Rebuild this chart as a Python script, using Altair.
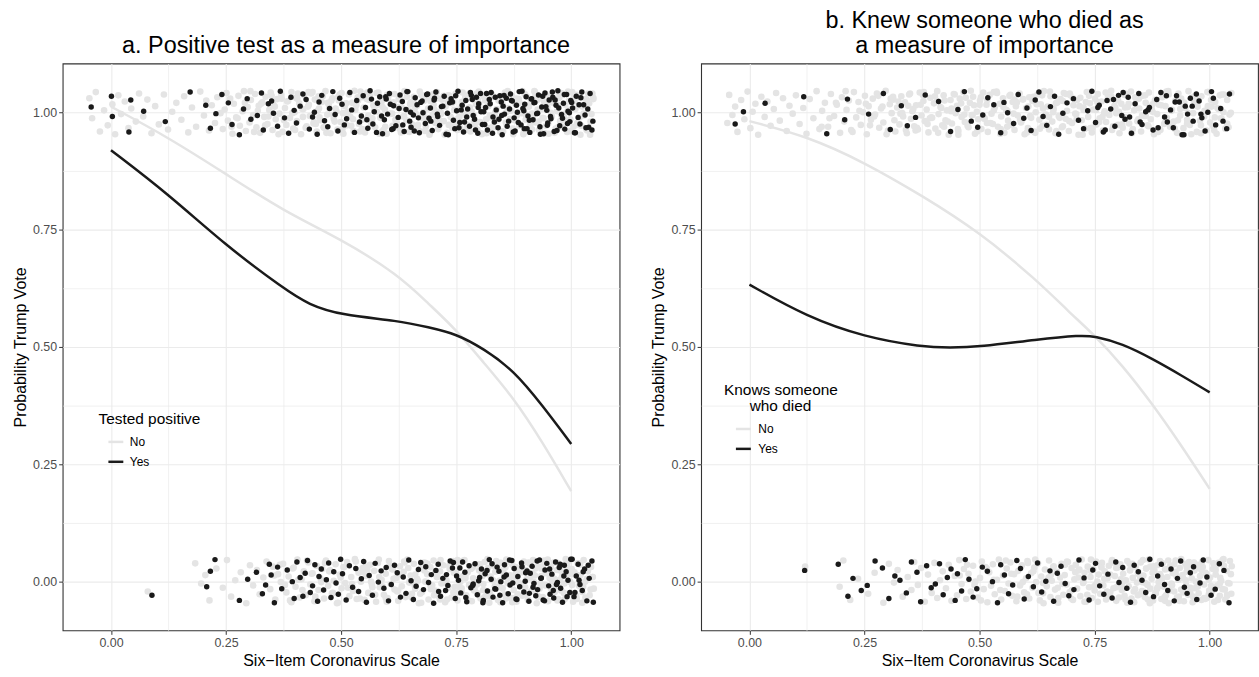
import altair as alt
import pandas as pd

# ---------------- smoothed curves ----------------
A_NO_X = [0, 0.125, 0.25, 0.375, 0.5, 0.625, 0.69, 0.75, 0.81, 0.875, 0.9375, 1.0]
A_NO_Y = [1.013, 0.947, 0.869, 0.79, 0.73, 0.654, 0.592, 0.537, 0.466, 0.391, 0.297, 0.192]
A_YES_X = [0, 0.125, 0.25, 0.375, 0.43, 0.5, 0.625, 0.69, 0.75, 0.81, 0.875, 0.9375, 1.0]
A_YES_Y = [0.92, 0.826, 0.716, 0.625, 0.59, 0.568, 0.556, 0.542, 0.528, 0.496, 0.45, 0.375, 0.293]
B_NO_X = [0, 0.125, 0.25, 0.375, 0.5, 0.625, 0.695, 0.75, 0.81, 0.875, 0.9375, 1.0]
B_NO_Y = [0.982, 0.95, 0.894, 0.823, 0.745, 0.642, 0.574, 0.525, 0.461, 0.379, 0.291, 0.197]
B_YES_X = [0, 0.125, 0.25, 0.375, 0.435, 0.5, 0.625, 0.72, 0.75, 0.81, 0.875, 0.9375, 1.0]
B_YES_Y = [0.633, 0.564, 0.521, 0.5, 0.498, 0.5, 0.516, 0.525, 0.523, 0.507, 0.475, 0.44, 0.403]

# ---------------- jittered respondents (x in thousandths) ----------------
A_TOP_NO = [-47,-41,-33,-24,-15,-7, 3,9,16,22,30,38,44, 54,61,70,79,88,96, 104,115,124,133,142,
 153,159,168,176,185,194, 202,207,213,219,226,231,238,243,247,
 251,254,259,264,267,272,277,280,286,289,293,297, 301,304,309,313,316,321,324,329,333,336,340,344,347,
 351,353,358,361,366,370,373,378,381,385,389,392,396,399, 402,404,409,413,416,420,425,428,432,435,440,443,447,449,
 451,455,458,463,466,470,473,477,481,484,488,492,495,499, 501,504,508,513,517,520,524,527,531,536,539,542,546,549,
 552,556,559,563,567,570,574,578,581,585,588,592,595,599, 602,605,609,612,616,621,624,627,631,635,638,642,646,648,
 651,654,658,662,665,669,674,677,680,684,689,692,696,699, 701,705,708,711,716,719,723,727,730,733,738,741,745,749,
 752,755,759,762,767,770,774,778,781,786,789,793,796,799, 802,806,809,813,816,820,825,828,832,835,839,844,847,850,
 853,856,860,863,867,871,874,879,882,886,889,894,897,899, 901,905,908,912,915,920,923,927,930,934,938,941,945,948,
 951,954,958,962,966,969,973,976,981,984,987,991,995,998, 1002,1005,1009,1013,1016,1020,1024,1028,1031,1035,1039,1042,1046]
A_TOP_NO2 = [262,275,291,303,311,319,326,335,342,349,356,364,371,376,383,394,400,406,418,423,430,438,445,453,
 460,468,474,479,486,490,497,503,511,515,522,529,533,541,547,554,561,565,572,577,583,590,596,604,607,614,618,
 625,630,637,643,650,656,660,667,671,679,682,687,694,700,706,710,717,721,725,732,735,742,746,754,757,764,769,
 772,780,784,791,795,800,804,811,815,823,827,830,838,842,846,851,858,862,869,873,877,881,888,892,896,903,907,
 911,917,921,926,932,936,940,944,950,956,960,964,970,974,978,983,989,993,997,1001,1007,1011,1018,1022,1026,
 1033,1037,1044,1048]
A_TOP_NO3 = [405,417,429,441,452,462,471,483,494,505,514,526,537,546,557,568,579,589,600,611,620,632,641,652,
 663,672,684,693,703,714,723,734,743,753,762,771,779,788,797,806,813,821,829,837,845,852,859,866,873,880,887,
 894,901,908,915,922,929,936,943,950,957,964,971,978,985,992,999,1006,1013,1020,1027,1034,1041,1048]
A_TOP_YES = [-43, 1,3,39,43, 71, 118, 172, 206,216,228,241, 255,263,279,288,296, 304,318,327,331,342,349,
 353,362,368,377,386,391,398, 403,411,417,424,431,438,442,448, 452,458,464,471,475,482,487,493,497,
 502,507,512,519,523,529,534,540,544,548, 553,558,563,569,572,579,584,590,594,598,
 601,605,610,614,619,624,628,633,637,641,645,649, 652,657,661,665,670,673,678,683,686,691,694,698,
 702,706,710,714,718,724,728,731,736,739,744,747, 751,754,758,763,766,771,775,779,783,787,790,794,797,799,
 803,807,810,814,818,822,826,830,833,837,841,845,848,850, 852,855,859,864,868,872,876,878,883,887,891,895,898,899,
 902,906,910,913,917,921,925,929,932,936,940,943,947,949, 952,956,960,963,967,971,975,979,983,986,990,993,997,999,
 1003,1007,1011,1015,1019,1023,1027,1032,1036,1041,1045]
A_TOP_YES2 = [556,566,577,588,597,607,613,626,634,643,651,659,668,676,688,695,703,709,721,733,742,749,756,761,
 768,773,781,785,792,798,804,812,816,824,829,835,843,849,854,861,866,870,874,881,885,893,897,904,909,914,919,
 927,933,938,945,948,955,959,965,969,973,981,985,992,996,1001,1009,1017,1021,1030,1038,1047]
A_BOT_NO = [80, 183,196, 205,214,229,243, 252,261,270,282,294, 302,309,317,323,331,338,346,
 352,357,363,369,374,381,386,392,397, 401,405,410,414,419,423,429,433,438,442,447,
 451,455,459,463,467,472,476,480,484,488,493,497, 501,505,509,513,518,522,526,530,534,538,543,547,
 551,555,559,563,567,572,576,580,584,588,593,597, 601,604,608,612,616,620,624,628,632,636,640,644,648,
 651,654,658,661,665,669,672,676,680,683,687,690,694,698, 701,704,708,711,715,718,722,726,729,733,736,740,744,747,
 750,753,756,759,762,765,768,772,775,778,781,784,787,790,793,797, 800,803,806,809,812,815,819,822,825,828,831,834,837,841,844,847,
 850,853,856,859,862,866,869,872,875,878,881,884,888,891,894,897, 900,903,906,910,913,916,919,922,925,928,931,935,938,941,944,947,
 950,953,956,959,962,966,969,972,975,978,981,985,988,991,994,997, 1001,1004,1007,1011,1014,1017,1020,1024,1027,1031,1034,1038,1042,1046]
A_BOT_NO2 = [355,367,378,389,395,407,416,426,436,444,457,465,474,482,491,499,507,515,524,532,541,549,557,565,
 574,582,590,599,606,614,622,630,638,646,653,660,667,674,681,688,695,702,709,716,723,730,737,745,751,757,763,
 770,776,782,789,795,801,807,813,818,823,829,835,840,846,851,857,862,867,873,879,884,890,895,901,906,911,917,
 922,927,933,938,943,949,954,959,964,970,975,980,986,991,996,1002,1008,1013,1019,1024,1030,1036,1043,1049]
A_BOT_NO3 = [553,568,583,597,611,624,637,649,661,672,683,694,705,715,725,735,744,753,762,770,778,786,794,802,
 809,816,823,830,837,844,851,858,865,872,879,886,893,900,907,914,921,928,935,942,949,956,963,970,977,984,991,
 998,1005,1012,1019,1026,1033,1040,1047]
A_BOT_YES = [89, 208,216,226, 279,297, 316,329,336,344,348, 355,362,371,383,394,398,
 404,411,417,422,427,433,438,443,449, 452,457,462,468,473,478,484,489,494,499,
 503,511,518,525,532,538,544,549, 555,561,568,574,581,587,593,598, 603,609,616,622,629,635,641,647,
 652,657,663,668,673,679,684,690,696, 701,706,711,716,721,727,732,737,742,748,
 751,755,760,764,769,773,778,782,787,791,796, 801,805,809,813,818,822,826,830,834,839,843,847,
 851,855,859,863,867,871,876,880,884,888,892,897, 900,904,908,911,915,919,923,927,931,935,939,943,947,
 951,954,958,962,966,970,974,977,981,985,989,993,997, 1002,1006,1011,1015,1019,1024,1029,1034,1039,1045]
A_BOT_YES2 = [712,729,744,758,771,786,799,808,817,828,836,845,854,866,873,882,893,901,909,917,926,934,942,953,
 961,968,976,984,991,999,1008,1017,1026,1037,1048]
B_TOP_NO = [-48,-44,-37,-31,-26,-18,-11,-4, 2,7,13,19,26,33,39,46, 53,58,66,73,81,87,94, 101,109,117,124,131,139,146,
 152,158,164,171,177,184,190,197, 201,206,211,216,221,227,232,237,242,247, 251,255,259,264,268,273,277,282,286,291,296,
 301,305,309,313,317,321,326,330,334,338,342,347, 351,354,358,362,366,370,374,378,381,385,389,393,397,
 401,404,408,411,415,419,422,426,429,433,437,440,444,448, 451,454,457,461,465,468,472,476,479,483,486,490,494,497,
 501,504,508,511,515,518,522,526,529,533,537,540,544,547, 551,554,558,562,565,569,572,576,579,583,587,590,594,598,
 601,605,608,612,615,619,622,626,630,633,637,640,644,648, 651,654,658,661,665,669,672,676,679,683,687,690,694,697,
 701,704,708,712,715,719,722,726,729,733,736,740,744,747, 751,754,757,761,765,768,772,775,779,782,786,790,793,797,
 801,804,808,811,815,818,822,825,829,833,836,840,843,847, 851,854,858,861,865,868,872,876,879,883,886,890,893,897,
 901,904,907,911,914,918,922,925,929,932,936,939,943,947, 951,954,957,961,964,968,972,975,979,982,986,989,993,997,
 1001,1004,1008,1012,1015,1019,1022,1026,1030,1034,1038,1043,1047]
B_TOP_NO2 = [157,174,188,209,224,239,253,262,271,280,289,298,307,315,324,332,340,349,356,364,372,379,387,395,
 403,410,417,424,431,438,446,453,460,467,474,481,488,495,503,510,517,524,531,538,545,552,560,567,574,581,588,
 595,603,610,617,624,631,638,646,653,660,667,674,681,688,695,703,710,717,724,731,738,745,753,760,767,774,781,
 788,795,803,810,817,824,831,838,845,853,860,867,874,881,888,895,903,910,917,924,931,938,945,953,960,967,974,
 981,988,995,1003,1010,1017,1024,1031,1038,1046]
B_TOP_NO3 = [312,328,345,361,377,392,408,423,439,454,470,485,500,516,531,546,561,576,591,606,621,636,651,666,
 681,696,711,726,741,756,771,786,801,816,831,846,861,876,891,906,921,936,951,966,981,996,1011,1026,1041]
B_TOP_YES = [-31,-13, 34, 118, 168, 207,213, 259,291, 306,330,343, 361,382, 411,437, 453,467,482,496,
 507,518,531,546, 553,561,574,584,596, 603,612,621,629,638,646, 654,663,672,681,690, 704,715,726,735,744,
 752,760,769,777,785,794, 802,809,816,823,830,838,846, 853,861,869,877,885,894,
 902,908,915,921,928,934,940,947, 952,958,964,971,977,983,990,996, 1004,1013,1024,1037]
B_TOP_YES2 = [757,773,791,812,826,849,866,888,906,925,944,962,981,1008,1029,1043]
B_BOT_NO = [121, 196, 204,219,236, 258,272,291, 303,314,322,333,344, 352,358,366,373,381,388,396,
 402,408,414,420,427,433,439,446, 451,456,461,466,471,476,481,486,491,496,
 501,505,509,513,517,521,525,529,533,538,542,547, 551,555,559,563,567,571,575,580,584,588,592,597,
 601,604,608,612,615,619,623,627,631,634,638,642,646, 651,654,657,661,664,668,671,675,678,682,685,689,692,696,
 700,703,706,709,712,715,719,722,725,728,731,735,738,741,744,747, 750,753,756,759,762,766,769,772,775,778,781,784,788,791,794,797,
 800,803,806,809,812,815,818,821,824,827,830,833,836,839,842,845,848, 850,853,856,859,862,865,868,871,874,877,880,883,886,889,892,895,898,
 900,903,905,908,911,914,917,920,923,926,929,932,935,938,941,944,947,949, 950,953,955,958,961,964,967,970,973,976,979,982,985,988,991,994,997,999,
 1001,1004,1007,1010,1013,1016,1019,1022,1025,1028,1031,1034,1037,1040,1044,1047]
B_BOT_NO2 = [457,473,489,503,516,531,545,557,569,582,594,605,617,628,639,650,660,670,680,690,699,708,717,726,
 734,742,749,757,764,771,777,784,790,797,803,809,815,821,827,832,838,844,849,855,860,866,871,876,882,887,892,
 897,903,908,913,918,923,928,933,938,943,948,953,958,963,968,973,978,983,988,993,998,1003,1008,1013,1018,1023,
 1028,1033,1038,1043,1048]
B_BOT_NO3 = [603,621,638,655,671,686,701,715,728,741,753,765,776,787,797,807,817,826,835,844,853,862,870,878,
 886,894,902,910,918,926,934,942,950,958,966,974,982,990,998,1006,1014,1022,1030,1038,1046]
B_BOT_YES = [120, 193, 214,225,243, 256,273,289, 303,316,327,341, 352,364,372,385,395, 404,413,421,430,438,447,
 452,461,469,477,486,494, 506,517,528,539,546, 554,563,572,581,589,597, 606,617,626,635,644,
 653,661,669,677,686,694, 705,716,727,738,746, 752,761,770,779,788,796, 803,811,820,828,836,845,
 853,861,870,878,887,895, 902,909,916,923,930,937,945, 951,958,965,972,979,986,994, 1003,1012,1021,1031,1042]

# vertical jitter (thousandths) read for each respondent band
JT = [31,-12,44,-40,5,-27,18,-46,37,-3,24,-33,9,-19,41, -8,28,-44,14,-25,39,-36,2,21,-15,35,-42,11,-30,45,
 -6,26,-38,16,-22,33,-1,-35,7,42,-17,30,-45,19,-10, 36,-28,3,46,-39,12,-21,27,-5,40,-31,15,-43,22,-9,
 34,-24,6,43,-37,17,-14,29,-2,38,-41,10,-26,25,-11, 44,-34,1,32,-18,20,-46,8,37,-29,13,-7,41,-23,28,
 -40,4,35,-16,23,-32,46,-4,18,-44,31,-13,9,-36,26, -20,42,-1,14,-27,39,-9,21,-39,6,33,-24,45,-15,11,
 -42,29,-6,36,-19,16,-31,2,43,-11,24,-37,7,-45,30, -3,19,-28,40,-21,12,-34,27,-8,46,-16,5,-41,22,-25,
 34,-2,15,-38,38,-12,25,-30,9,-47,32,-5,17,-22,44, -35,3,28,-18,13,-43,37,-9,20,-29,41,-14,6,-33,23,
 -1,35,-26,11,-40,30,-7,18,-36,45,-20,8,-23,26,-44, 14,-10,39,-31,1,-17,33,-39,22,-4,43,-27,10,-13,36,
 -46,19,-6,29,-24,4,-42,40,-15,16,-32,27,-2,46,-21, 7,-37,31,-11,24,-28,12,-45,35,-8,21,-34,3,42,-18,
 38,-3,17,-41,25,-14,44,-30,8,-25,33,-47,13,-6,29, -38,20,-19,41,-10,5,-33,36,-26,15,-43,27,-1,46,-16]
JB = [-22,38,-5,13,-41,27,-14,45,-33,2,19,-47,34,-9,24, -28,8,42,-17,31,-39,15,-2,37,-24,10,-45,29,-12,46,
 -35,4,21,-30,40,-7,17,-43,33,-19,6,26,-37,44,-10, 23,-26,1,36,-46,14,-15,30,-4,41,-32,9,-21,47,-38,
 18,-1,28,-40,11,-25,35,-8,22,-44,39,-13,3,-29,16, -36,43,-6,25,-18,7,-42,32,-11,20,-34,46,-3,12,-27,
 37,-16,5,-47,27,-23,40,-1,15,-39,30,-9,44,-20,9, -31,21,-5,34,-45,2,-14,26,-35,43,-12,17,-41,38,-2,
 -24,11,45,-30,19,-8,31,-43,6,-17,36,-26,23,-37,14, -6,41,-21,28,-46,10,-33,33,-11,25,-40,1,39,-15,18,
 -28,46,-4,13,-36,35,-19,8,-44,22,-7,29,-31,42,-13, 4,-39,37,-22,16,-2,27,-47,32,-16,11,-34,44,-9,20,
 -42,7,30,-25,40,-12,24,-38,3,-20,34,-5,47,-29,15, -1,26,-44,19,-32,38,-10,12,-23,45,-35,5,31,-18,9,
 -40,36,-7,21,-27,43,-14,2,-46,28,-3,17,-37,33,-24, 14,-11,39,-30,6,-19,25,-43,41,-6,22,-33,10,-15,46,
 -26,32,-1,18,-41,29,-17,35,-8,4,-38,44,-21,13,-29, 23,-45,8,37,-13,1,-34,27,-4,42,-22,16,-39,31,-10]
JC = [12,35,-8,-41,27,3,-19,44,16,-33, -2,39,21,-25,-47,8,30,-14,-6,42, -37,19,25,-1,-29,46,-11,-44,33,5,
 -22,14,40,28,-35,-9,1,-46,23,37, -17,-30,9,45,-4,-39,31,18,-26,-13, 43,6,-42,26,-20,-7,36,11,-33,47,
 -24,2,20,34,-45,-15,29,-3,41,-36, 15,-28,-10,38,24,-40,7,45,-18,-31, -5,32,17,-43,22,0,-23,39,-12,10,
 -38,27,44,-8,-27,13,35,-46,-1,21, 30,-16,-34,4,46,-21,16,-41,26,8, -29,37,-6,-14,33,-44,19,41,-25,2,
 11,-37,28,43,-9,-20,6,-32,36,23, -47,14,-3,31,-18,40,25,-11,-39,1, 45,-26,9,-34,18,34,-7,-42,29,-15,
 22,-2,38,-30,12,-45,42,5,-22,27, -13,33,-40,16,47,-28,-4,20,-35,39, 3,-19,26,10,-43,35,-10,-24,44,17,
 -32,8,41,-37,-1,24,-16,30,-46,13, 36,-8,-27,19,4,-41,46,21,-12,-30]

GRID_VALUES = [0, 0.125, 0.25, 0.375, 0.5, 0.625, 0.75, 0.875, 1.0]
GROUPS = ["No", "Yes"]
COLORS = ["#e4e4e4", "#1a1a1a"]
SIZE_NO = 44
SIZE_YES = 30
FONT = "Liberation Sans"
INDENT = "\u200b" + "\u00a0" * 6


def band(xs, base, jit, grp):
    return [{"x": x / 1000, "y": base + j / 1000, "g": grp} for x, j in zip(xs, jit)]


def curve(xs, ys, grp):
    return [{"x": x, "y": y, "g": grp} for x, y in zip(xs, ys)]


MINOR = "round(datum.value * 8) % 2 == 1"


def axis(title):
    return alt.Axis(
        values=GRID_VALUES,
        title=title,
        labelExpr="round(datum.value * 8) % 2 == 0 ? format(datum.value, '.2f') : ''",
        tickOpacity={"condition": {"test": MINOR, "value": 0}, "value": 1},
        gridWidth={"condition": {"test": MINOR, "value": 0.7}, "value": 1.1},
    )


def panel(gray, black, lines, title, leg_title, lx, ly, sym_off, lab_off):
    xs = alt.Scale(domain=[-0.105, 1.105], nice=False, zero=False)
    ys = alt.Scale(domain=[-0.105, 1.105], nice=False, zero=False)
    cs = alt.Scale(domain=GROUPS, range=COLORS)
    xe = alt.X("x:Q", scale=xs, axis=axis("Six\u2212Item Coronavirus Scale"))
    ye = alt.Y("y:Q", scale=ys, axis=axis("Probability Trump Vote"))
    leg = alt.Legend(
        title=leg_title, orient="none", legendX=lx, legendY=ly,
        symbolType="stroke", symbolStrokeWidth=2.5, symbolSize=225,
        symbolOffset=sym_off, labelOffset=lab_off, padding=0,
        titleAnchor="start", titleAlign="left",
    )
    col = alt.Color("g:N", scale=cs, legend=leg)
    p_no = alt.Chart(pd.DataFrame(gray)).mark_circle(opacity=1, size=SIZE_NO).encode(x=xe, y=ye, color=col)
    p_yes = alt.Chart(pd.DataFrame(black)).mark_circle(opacity=1, size=SIZE_YES).encode(x=xe, y=ye, color=col)
    lns = alt.Chart(pd.DataFrame(lines)).mark_line(strokeWidth=2.5, interpolate="basis").encode(
        x=xe, y=ye, color=col,
    )
    return alt.layer(p_no, p_yes, lns).properties(
        width=560, height=570,
        title=alt.TitleParams(title, fontSize=23.5, fontWeight="normal", lineHeight=25,
                              anchor="middle", frame="group", offset=6, dx=5, font=FONT, color="#000000"),
    )


ga = (band(A_TOP_NO, 1, JT, "No") + band(A_TOP_NO2, 1, JC[::-1], "No") + band(A_TOP_NO3, 1, JB[100:], "No")
      + band(A_BOT_NO, 0, JB, "No") + band(A_BOT_NO2, 0, JC, "No") + band(A_BOT_NO3, 0, JT[100:], "No"))
ka = (band(A_TOP_YES, 1, JC, "Yes") + band(A_TOP_YES2, 1, JC[::-1][50:], "Yes")
      + band(A_BOT_YES, 0, JC[::-1], "Yes") + band(A_BOT_YES2, 0, JC[30:], "Yes"))
gb = (band(B_TOP_NO, 1, JB, "No") + band(B_TOP_NO2, 1, JC[::-1], "No") + band(B_TOP_NO3, 1, JT[150:], "No")
      + band(B_BOT_NO, 0, JT, "No") + band(B_BOT_NO2, 0, JC, "No") + band(B_BOT_NO3, 0, JB[150:], "No"))
kb = (band(B_TOP_YES, 1, JC[60:], "Yes") + band(B_TOP_YES2, 1, JC[120:], "Yes")
      + band(B_BOT_YES, 0, JC[::-1][70:], "Yes"))
la = curve(A_NO_X, A_NO_Y, "No") + curve(A_YES_X, A_YES_Y, "Yes")
lb = curve(B_NO_X, B_NO_Y, "No") + curve(B_YES_X, B_YES_Y, "Yes")

left = panel(ga, ka, la, "a. Positive test as a measure of importance", "Tested positive", 36, 350, 8.5, 5)
right = panel(gb, kb, lb, ["b. Knew someone who died as", "a measure of importance"],
              ["Knows someone", INDENT + "who died"], 23, 321, 10.5, 6)

chart = alt.hconcat(left, right, spacing=30).resolve_scale(
    color="independent"
).resolve_legend(color="independent").properties(
    padding={"left": 12, "top": 6, "right": 0, "bottom": 0}
).configure(font=FONT).configure_view(
    stroke="#333333", strokeWidth=1.1
).configure_axis(
    domain=False, gridColor="#ebebeb", tickColor="#333333", tickSize=4, tickWidth=1,
    labelColor="#4d4d4d", labelFontSize=12.5, labelPadding=2, labelFont=FONT,
    titleFontSize=16, titleFontWeight="normal", titleColor="#000000", titleFont=FONT,
).configure_axisY(titlePadding=4).configure_axisX(titlePadding=4).configure_legend(
    titleFontSize=15.5, titleFontWeight="normal", titleColor="#000000", titleFont=FONT,
    labelFontSize=12, labelColor="#000000", labelFont=FONT, rowPadding=5, titlePadding=6,
    titleLineHeight=16,
)

chart.save("out.html", embed_options={"renderer": "svg", "actions": False})
